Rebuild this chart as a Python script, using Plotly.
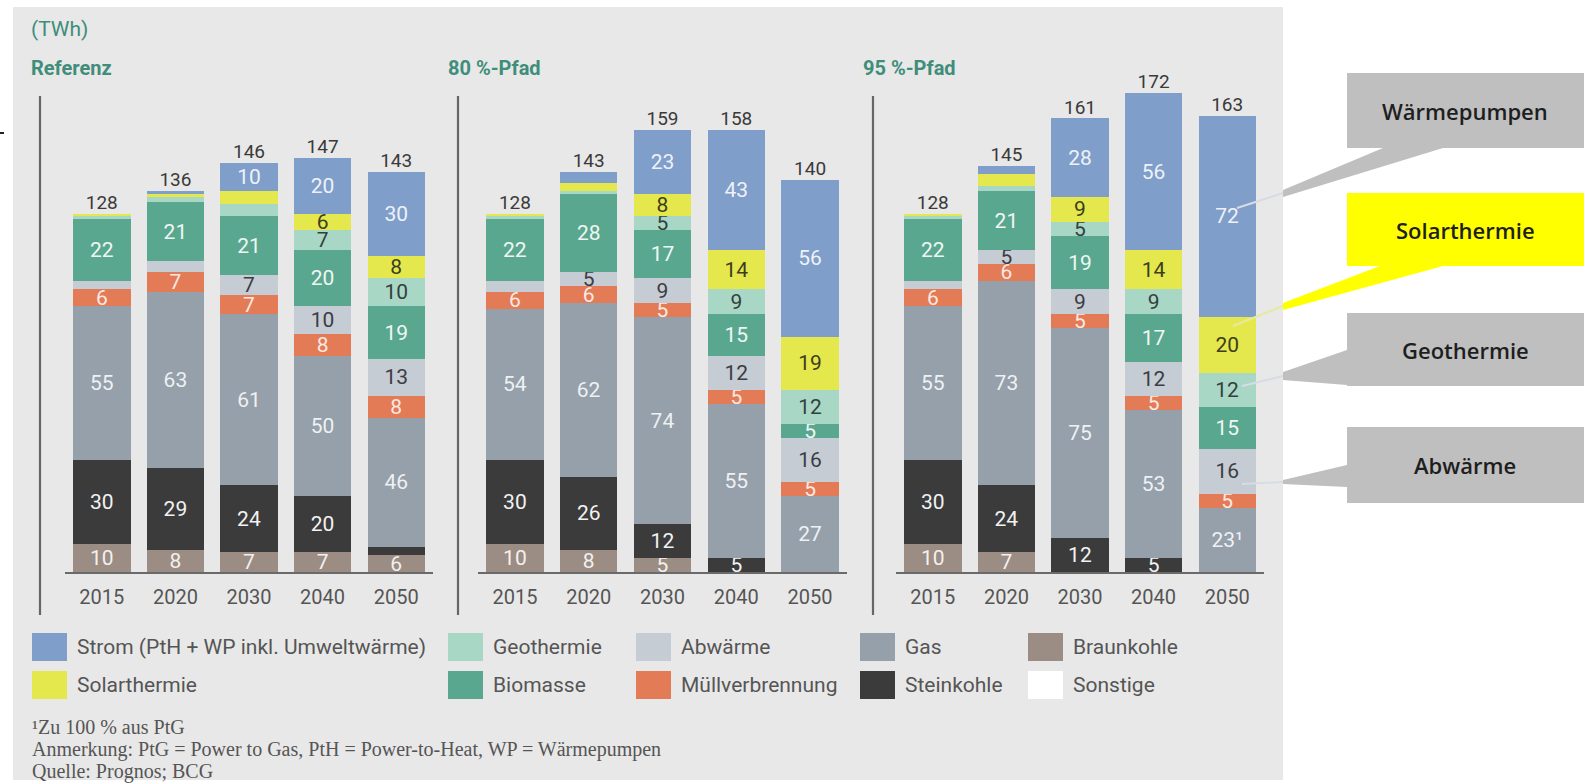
import plotly.graph_objects as go

W, H = 1591, 783

years = ["2015", "2020", "2030", "2040", "2050"]
scenarios = ["Referenz", "80 %-Pfad", "95 %-Pfad"]

# TWh per series; order: Referenz (5 years), 80 %-Pfad (5 years), 95 %-Pfad (5 years)
braunkohle = [10, 8, 7, 7, 6, 10, 8, 5, 0, 0, 10, 7, 0, 0, 0]
steinkohle = [30, 29, 24, 20, 3, 30, 26, 12, 5, 0, 30, 24, 12, 5, 0]
gas = [55, 63, 61, 50, 46, 54, 62, 74, 55, 27, 55, 73, 75, 53, 23]
muell = [6, 7, 7, 8, 8, 6, 6, 5, 5, 5, 6, 6, 5, 5, 5]
abwaerme = [3, 4, 7, 10, 13, 4, 5, 9, 12, 16, 3, 5, 9, 12, 16]
biomasse = [22, 21, 21, 20, 19, 22, 28, 17, 15, 5, 22, 21, 19, 17, 15]
geothermie = [1, 2, 4.6, 7, 10, 1, 1, 5, 9, 12, 1, 2, 5, 9, 12]
solarthermie = [1, 1, 4.4, 6, 8, 1, 3, 8, 14, 19, 1, 4, 9, 14, 20]
strom = [0, 1, 10, 20, 30, 0, 4, 23, 43, 56, 0, 3, 28, 56, 72]
sonstige = [0, 0, 0, 0, 0, 0, 0, 0, 0, 0, 0, 0, 0, 0, 0]
totals = [128, 136, 146, 147, 143, 128, 143, 159, 158, 140, 128, 145, 161, 172, 163]
gas_note = ["", "", "", "", "", "", "", "", "", "", "", "", "", "", "¹"]

series_names = ["Braunkohle", "Steinkohle", "Gas", "Müllverbrennung", "Abwärme",
                "Biomasse", "Geothermie", "Solarthermie",
                "Strom (PtH + WP inkl. Umweltwärme)", "Sonstige"]
series_values = [braunkohle, steinkohle, gas, muell, abwaerme, biomasse,
                 geothermie, solarthermie, strom, sonstige]
series_colors = ["#9b8c84", "#3b3b3b", "#95a0aa", "#e37b57", "#c6ccd3",
                 "#5aa78f", "#a9d7c6", "#e4e84c", "#7f9ec9", "#ffffff"]
text_colors = ["#f4f0ee", "#f2f2f2", "#eef1f4", "#fbe9e2", "#3c3c44",
               "#eef7f3", "#33413c", "#3d3d20", "#eef2f8", "#333333"]
series_notes = [None, None, gas_note, None, None, None, None, None, None, None]

# legend layout: rows/columns as in the original
legend_rows = [["Strom (PtH + WP inkl. Umweltwärme)", "Geothermie", "Abwärme", "Gas", "Braunkohle"],
               ["Solarthermie", "Biomasse", "Müllverbrennung", "Steinkohle", "Sonstige"]]

callout_labels = ["Wärmepumpen", "Solarthermie", "Geothermie", "Abwärme"]
callout_fill = ["#bfbfbf", "#ffff00", "#bfbfbf", "#bfbfbf"]

footnotes = ["¹Zu 100 % aus PtG",
             "Anmerkung: PtG = Power to Gas, PtH = Power-to-Heat, WP = Wärmepumpen",
             "Quelle: Prognos; BCG"]

FONT = "Roboto, 'Noto Sans', sans-serif"
TEAL = "#3f8d7a"


def px(x):
    return x / W


def py(y):
    return 1 - y / H


x_domains_px = [(65, 433), (478, 847), (896, 1264)]
y_base_px, y_top_px, y_max = 572, 68, 180.0

fig = go.Figure()

for s in range(3):
    ax = "" if s == 0 else str(s + 1)
    sl = slice(s * 5, s * 5 + 5)
    stack = [0.0] * 5
    for name, vals, col, tcol, note in zip(series_names, series_values, series_colors,
                                           text_colors, series_notes):
        v = vals[sl]
        nt = note[sl] if note else [""] * 5
        labels = [f"{round(a)}{b}" if a >= 4.9 else "" for a, b in zip(v, nt)]
        fig.add_trace(go.Bar(
            x=years, y=v, name=name, marker=dict(color=col, line=dict(width=0)),
            text=labels, textposition="inside", insidetextanchor="middle",
            textangle=0, textfont=dict(family=FONT, size=21, color=tcol),
            xaxis="x" + ax, yaxis="y" + ax, showlegend=False,
            hovertemplate=name + ": %{y}<extra></extra>"))
        stack = [a + b for a, b in zip(stack, v)]
    fig.add_trace(go.Scatter(
        x=years, y=stack, mode="text", text=[str(t) for t in totals[sl]],
        textposition="top center", textfont=dict(family=FONT, size=19, color="#3a3a3a"),
        xaxis="x" + ax, yaxis="y" + ax, showlegend=False, hoverinfo="skip", cliponaxis=False))

layout = dict(
    width=W, height=H, margin=dict(l=0, r=0, t=0, b=0, pad=0),
    paper_bgcolor="white", plot_bgcolor="rgba(0,0,0,0)",
    barmode="stack", bargap=0.22, showlegend=False,
    uniformtext=dict(minsize=21, mode="show"),
    font=dict(family=FONT, color="#555555"),
)
for s in range(3):
    ax = "" if s == 0 else str(s + 1)
    x0, x1 = x_domains_px[s]
    layout["xaxis" + ax] = dict(
        domain=[px(x0), px(x1)], anchor="y" + ax, type="category",
        range=[-0.5, 4.5], showline=True, linecolor="#6a6a6a", linewidth=1.5,
        ticks="", showgrid=False, zeroline=False, ticklabelstandoff=6,
        tickfont=dict(family=FONT, size=20, color="#555555"), fixedrange=True)
    layout["yaxis" + ax] = dict(
        domain=[py(y_base_px), py(y_top_px)], anchor="x" + ax, range=[0, y_max],
        visible=False, fixedrange=True)
fig.update_layout(**layout)

shapes = []
annotations = []

# grey panel
shapes.append(dict(type="rect", xref="paper", yref="paper", x0=px(13), x1=px(1283),
                   y0=py(780), y1=py(7), fillcolor="#e8e8e8", line=dict(width=0), layer="below"))
# tiny mark at left edge
shapes.append(dict(type="line", xref="paper", yref="paper", x0=px(0), x1=px(4),
                   y0=py(133), y1=py(133), line=dict(color="#222", width=2)))

# scenario separators
for xs in [40, 458, 873]:
    shapes.append(dict(type="line", xref="paper", yref="paper", x0=px(xs), x1=px(xs),
                       y0=py(96), y1=py(615), line=dict(color="#666666", width=2.2)))

# unit + scenario titles
annotations.append(dict(text="(TWh)", x=px(29), y=py(29), xref="paper", yref="paper",
                        xanchor="left", yanchor="middle", showarrow=False,
                        font=dict(family=FONT, size=21, color=TEAL)))
for title, xt in zip(scenarios, [29, 446, 861]):
    annotations.append(dict(text="<b>" + title + "</b>", x=px(xt), y=py(68), xref="paper",
                            yref="paper", xanchor="left", yanchor="middle", showarrow=False,
                            font=dict(family=FONT, size=20, color=TEAL)))

# legend (manual swatches)
col_sq_x = [32, 448, 636, 860, 1028]
row_y = [647, 685]
for r, row in enumerate(legend_rows):
    for c, name in enumerate(row):
        col = series_colors[series_names.index(name)]
        xs = col_sq_x[c]
        yc = row_y[r]
        shapes.append(dict(type="rect", xref="paper", yref="paper", x0=px(xs), x1=px(xs + 35),
                           y0=py(yc + 14), y1=py(yc - 14), fillcolor=col, line=dict(width=0)))
        annotations.append(dict(text=name, x=px(xs + 43), y=py(yc), xref="paper", yref="paper",
                                xanchor="left", yanchor="middle", showarrow=False,
                                font=dict(family=FONT, size=21, color="#555555")))

# footnotes
for i, t in enumerate(footnotes):
    annotations.append(dict(text=t, x=px(30), y=py(727 + i * 22), xref="paper", yref="paper",
                            xanchor="left", yanchor="middle", showarrow=False,
                            font=dict(family="'Liberation Serif', serif", size=20, color="#555555")))

# callouts
box_y = [(73, 148), (193, 266), (313, 386), (427, 503)]
wedges = [
    [(1383, 148), (1443, 148), (1283, 197), (1283, 190)],
    [(1380, 266), (1443, 266), (1283, 310), (1283, 303)],
    [(1347, 350), (1347, 385), (1283, 380), (1283, 372)],
    [(1347, 465), (1347, 487), (1283, 484), (1283, 480)],
]
tails = [((1283, 193), (1237, 208)), ((1283, 306), (1233, 326)),
         ((1283, 376), (1242, 386)), ((1283, 482), (1242, 484))]
for lab, fill, (yt, yb), wed, tail in zip(callout_labels, callout_fill, box_y, wedges, tails):
    path = "M " + " L ".join(f"{px(a):.5f},{py(b):.5f}" for a, b in wed) + " Z"
    shapes.append(dict(type="path", xref="paper", yref="paper", path=path,
                       fillcolor=fill, line=dict(width=0)))
    shapes.append(dict(type="rect", xref="paper", yref="paper", x0=px(1347), x1=px(1584),
                       y0=py(yb), y1=py(yt), fillcolor=fill, line=dict(width=0)))
    shapes.append(dict(type="line", xref="paper", yref="paper",
                       x0=px(tail[0][0]), y0=py(tail[0][1]), x1=px(tail[1][0]), y1=py(tail[1][1]),
                       line=dict(color="#e6e9a0" if fill == "#ffff00" else "#d7dce4", width=2)))
    annotations.append(dict(text=lab, x=px(1465), y=py((yt + yb) / 2), xref="paper", yref="paper",
                            xanchor="center", yanchor="middle", showarrow=False,
                            font=dict(family="'Open Sans', sans-serif", size=22, color="#1e1e1e",
                                      weight=600)))

fig.update_layout(shapes=shapes, annotations=annotations)
fig.write_html("out.html", config={"displayModeBar": False},
               post_script="document.body.style.margin='0';document.body.style.overflow='hidden';")
